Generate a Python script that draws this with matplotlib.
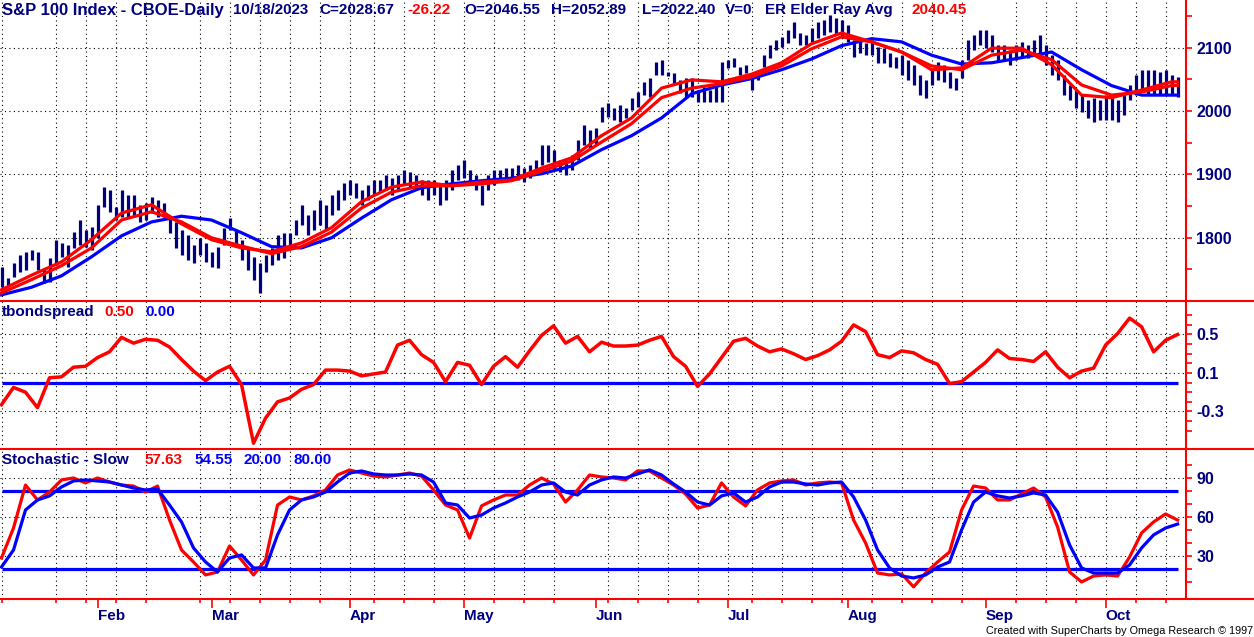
import matplotlib.pyplot as plt
import numpy as np
import pandas as pd
from matplotlib.lines import Line2D

plt.rcParams['axes.unicode_minus'] = False
plt.rcParams['font.family'] = ['Liberation Sans', 'DejaVu Sans']

W, H = 1254, 637
NAVY = '#000080'
RED = '#ff0000'
BLUE = '#0000ff'

# trading days shown (data feed has a bar on Juneteenth)
holidays = ['2023-01-16', '2023-02-20', '2023-04-07', '2023-05-29', '2023-07-04', '2023-09-04']
dates = pd.bdate_range('2023-01-09', '2023-10-18', freq='C', holidays=holidays)

# daily bars, high / low
highs = [1754, 1737, 1760, 1773, 1778, 1781, 1778, 1752, 1768, 1797,
         1792, 1789, 1809, 1828, 1812, 1817, 1852, 1880, 1876, 1849,
         1876, 1868, 1868, 1852, 1855, 1864, 1860, 1855, 1833, 1825,
         1812, 1804, 1789, 1800, 1792, 1778, 1785, 1815, 1831, 1812,
         1797, 1784, 1770, 1760, 1773, 1784, 1804, 1808, 1808, 1828,
         1852, 1836, 1844, 1860, 1852, 1867, 1875, 1886, 1891, 1886,
         1875, 1883, 1891, 1891, 1899, 1894, 1899, 1907, 1904, 1899,
         1891, 1891, 1891, 1883, 1891, 1907, 1915, 1923, 1907, 1899,
         1883, 1899, 1907, 1907, 1910, 1910, 1915, 1910, 1915, 1923,
         1946, 1946, 1939, 1923, 1923, 1931, 1954, 1978, 1970, 1973,
         2006, 2013, 2005, 2010, 2005, 2020, 2030, 2046, 2052, 2077,
         2080, 2061, 2060, 2049, 2052, 2052, 2033, 2038, 2033, 2038,
         2077, 2080, 2084, 2069, 2073, 2057, 2060, 2088, 2104, 2112,
         2117, 2128, 2140, 2123, 2120, 2131, 2140, 2144, 2151, 2147,
         2144, 2136, 2112, 2112, 2107, 2112, 2101, 2099, 2092, 2085,
         2088, 2080, 2073, 2057, 2049, 2065, 2077, 2073, 2062, 2052,
         2080, 2112, 2120, 2128, 2128, 2120, 2104, 2104, 2096, 2104,
         2109, 2104, 2112, 2120, 2104, 2088, 2080, 2057, 2041, 2033,
         2025, 2017, 2020, 2017, 2025, 2025, 2017, 2025, 2041, 2057,
         2065, 2065, 2065, 2062, 2065, 2057, 2052.89]
lows = [1722, 1722, 1738, 1746, 1749, 1765, 1749, 1729, 1730, 1757,
        1770, 1754, 1784, 1789, 1786, 1781, 1800, 1849, 1841, 1828,
        1833, 1833, 1833, 1825, 1828, 1839, 1833, 1833, 1808, 1784,
        1773, 1765, 1760, 1773, 1762, 1754, 1752, 1789, 1812, 1785,
        1765, 1749, 1734, 1713, 1746, 1757, 1765, 1768, 1784, 1804,
        1820, 1804, 1812, 1820, 1812, 1836, 1844, 1860, 1867, 1863,
        1852, 1860, 1867, 1872, 1875, 1867, 1875, 1883, 1878, 1875,
        1867, 1860, 1867, 1852, 1860, 1875, 1891, 1894, 1883, 1875,
        1852, 1875, 1883, 1888, 1888, 1891, 1891, 1888, 1894, 1899,
        1915, 1920, 1907, 1904, 1899, 1907, 1923, 1946, 1942, 1946,
        1983, 1991, 1986, 1983, 1989, 2002, 2006, 2025, 2022, 2057,
        2057, 2055, 2041, 2028, 2022, 2022, 2014, 2014, 2014, 2014,
        2014, 2068, 2069, 2057, 2060, 2033, 2049, 2069, 2084, 2096,
        2101, 2107, 2115, 2104, 2104, 2109, 2115, 2120, 2125, 2120,
        2115, 2109, 2085, 2092, 2088, 2088, 2076, 2076, 2069, 2068,
        2057, 2049, 2041, 2025, 2021, 2041, 2049, 2046, 2036, 2033,
        2052, 2080, 2096, 2104, 2099, 2093, 2077, 2080, 2073, 2080,
        2084, 2084, 2088, 2088, 2073, 2057, 2049, 2025, 2017, 2005,
        1999, 1989, 1983, 1986, 1986, 1986, 1983, 1994, 2017, 2025,
        2030, 2025, 2025, 2025, 2025, 2025, 2022.40]

# moving averages, read every 5th bar (plus the last one)
ma_bars = list(range(0, 196, 5)) + [196]
ma_blue = [1710, 1722, 1740, 1770, 1803, 1825, 1834, 1828, 1808, 1786,
           1784, 1800, 1831, 1860, 1879, 1885, 1890, 1894, 1901, 1913,
           1939, 1961, 1989, 2027, 2041, 2051, 2065, 2082, 2103, 2114,
           2109, 2088, 2074, 2076, 2084, 2093, 2065, 2040, 2025, 2025, 2025]
ma_red_fast = [1718, 1741, 1762, 1797, 1839, 1852, 1822, 1797, 1784, 1778,
               1792, 1816, 1857, 1880, 1888, 1882, 1888, 1891, 1910, 1926,
               1961, 1989, 2036, 2049, 2046, 2058, 2076, 2106, 2123, 2109,
               2093, 2065, 2068, 2099, 2099, 2073, 2025, 2021, 2033, 2046, 2046]
ma_red_slow = [1713, 1734, 1756, 1784, 1828, 1841, 1825, 1800, 1787, 1775,
               1786, 1809, 1847, 1872, 1882, 1882, 1885, 1890, 1905, 1921,
               1951, 1980, 2021, 2036, 2043, 2054, 2071, 2098, 2117, 2109,
               2093, 2071, 2065, 2088, 2096, 2081, 2041, 2025, 2030, 2040, 2040.45]

# oscillators, read every 2nd bar
osc_bars = list(range(0, 197, 2))
tbond = [-0.23, -0.05, -0.10, -0.26, 0.05, 0.06, 0.16, 0.17, 0.26, 0.32,
         0.47, 0.41, 0.45, 0.44, 0.37, 0.24, 0.12, 0.02, 0.11, 0.17,
         -0.02, -0.63, -0.37, -0.20, -0.16, -0.07, -0.02, 0.13, 0.13, 0.12,
         0.07, 0.09, 0.11, 0.39, 0.44, 0.29, 0.21, 0.01, 0.21, 0.18,
         -0.02, 0.17, 0.27, 0.16, 0.33, 0.49, 0.59, 0.41, 0.48, 0.32,
         0.42, 0.38, 0.38, 0.39, 0.44, 0.48, 0.27, 0.17, -0.04, 0.09,
         0.26, 0.43, 0.46, 0.38, 0.32, 0.35, 0.30, 0.24, 0.28, 0.34,
         0.43, 0.60, 0.53, 0.29, 0.26, 0.33, 0.31, 0.24, 0.19, -0.01,
         0.01, 0.11, 0.21, 0.34, 0.25, 0.24, 0.22, 0.32, 0.16, 0.05,
         0.12, 0.15, 0.39, 0.51, 0.67, 0.58, 0.32, 0.44, 0.50]
tbond_ref = 0.0
stoch_k = [28.5, 51.5, 84.6, 73.1, 79.2, 88.5, 90.0, 86.2, 90.0, 86.9,
           84.6, 83.8, 79.2, 83.8, 57.7, 34.6, 25.4, 15.4, 17.7, 37.7,
           26.9, 15.4, 26.9, 69.2, 75.4, 73.1, 76.2, 80.8, 92.3, 96.2,
           93.8, 91.5, 90.8, 92.3, 93.8, 91.5, 80.8, 69.2, 65.4, 43.8,
           68.5, 73.1, 76.9, 76.9, 84.6, 90.0, 85.4, 71.5, 80.8, 92.3,
           90.8, 90.0, 88.5, 95.4, 95.4, 90.0, 84.6, 77.7, 66.9, 69.2,
           86.2, 75.4, 68.5, 80.8, 86.2, 87.7, 88.5, 84.6, 86.2, 86.9,
           86.2, 57.7, 40.0, 16.9, 15.4, 16.2, 6.2, 16.9, 25.4, 33.1,
           65.4, 83.8, 82.3, 73.1, 73.1, 77.7, 82.3, 75.4, 52.3, 17.7,
           10.0, 14.6, 15.4, 14.6, 29.2, 47.7, 56.2, 62.3, 57.63]
stoch_d = [21.5, 34.6, 65.4, 73.1, 76.2, 83.1, 87.7, 88.5, 87.7, 86.9,
           84.6, 82.3, 80.8, 81.5, 69.2, 56.2, 36.2, 25.4, 17.7, 28.5,
           30.8, 20.8, 20.8, 46.2, 65.4, 73.1, 75.4, 79.2, 86.9, 93.8,
           95.4, 93.1, 92.3, 92.3, 93.1, 92.3, 86.9, 70.8, 69.2, 59.2,
           61.5, 66.9, 70.8, 75.4, 79.2, 84.6, 86.2, 79.2, 76.9, 84.6,
           88.5, 90.8, 90.0, 93.1, 96.2, 92.3, 85.4, 79.2, 71.5, 69.2,
           76.2, 78.5, 71.5, 75.4, 83.1, 86.9, 86.9, 85.4, 84.6, 86.2,
           86.9, 75.4, 57.7, 34.6, 20.8, 14.6, 13.1, 15.4, 21.5, 25.4,
           50.0, 71.5, 79.2, 76.2, 74.6, 76.2, 78.5, 76.9, 63.8, 38.5,
           20.8, 16.9, 16.9, 16.9, 23.1, 36.2, 46.2, 51.5, 54.55]
stoch_levels = [20, 80]

x = np.arange(len(dates))
mondays = x[np.asarray(dates.weekday) == 0]
months = np.asarray(dates.month)
month_starts = x[1:][months[1:] != months[:-1]]
month_names = [dates[i].strftime('%b') for i in month_starts]

fig = plt.figure(figsize=(W / 100, H / 100), dpi=100)
right = 1186 / W


def panel(top_px, bottom_px, ylim, majors, labels, minors):
    ax = fig.add_axes([0, 1 - bottom_px / H, right, (bottom_px - top_px) / H])
    ax.set_xlim(-0.25, 197.4)
    ax.set_ylim(*ylim)
    for s in ['top', 'left', 'bottom']:
        ax.spines[s].set_visible(False)
    ax.spines['right'].set_color(RED)
    ax.spines['right'].set_linewidth(1.5)
    ax.yaxis.tick_right()
    ax.set_yticks(majors, labels=labels)
    ax.set_yticks(minors, minor=True)
    ax.tick_params(axis='y', which='both', colors=RED, length=4.5, width=1.2,
                   labelcolor=NAVY, labelsize=11.5, pad=3)
    for lbl in ax.get_yticklabels():
        lbl.set_fontweight('bold')
    ax.set_xticks([])
    dots = dict(color='black', lw=0.8, ls=(0, (1, 3)), zorder=0)
    for v in majors:
        ax.axhline(v, **dots)
    for m in mondays:
        ax.axvline(m, **dots)
    return ax


ax1 = panel(0, 301, (1700.3, 2175), [1800, 1900, 2000, 2100],
            ['1800', '1900', '2000', '2100'], np.arange(1750, 2175, 50))
ax2 = panel(301, 449, (-0.69, 0.848), [-0.3, 0.1, 0.5],
            ['-0.3', '0.1', '0.5'], np.arange(-0.5, 0.75, 0.1))
ax3 = panel(449, 599, (-3.1, 112.3), [30, 60, 90],
            ['30', '60', '90'], np.arange(10, 105, 10))

# price bars and averages
ax1.vlines(x, lows, highs, color=NAVY, lw=2.3, zorder=2)
ax1.plot(ma_bars, ma_blue, color=BLUE, lw=2.3, zorder=3)
ax1.plot(ma_bars, ma_red_slow, color=RED, lw=2.3, zorder=4)
ax1.plot(ma_bars, ma_red_fast, color=RED, lw=2.3, zorder=4)

# tbondspread
ax2.hlines(tbond_ref, x[0], x[-1], color=BLUE, lw=2.3, zorder=2)
ax2.plot(osc_bars, tbond, color=RED, lw=2.5, zorder=3)

# slow stochastic
for lvl in stoch_levels:
    ax3.hlines(lvl, x[0], x[-1], color=BLUE, lw=2.3, zorder=2)
ax3.plot(osc_bars, stoch_k, color=RED, lw=2.3, zorder=3)
ax3.plot(osc_bars, stoch_d, color=BLUE, lw=2.3, zorder=3)

# date axis
ax3.set_xticks(month_starts, labels=month_names)
ax3.set_xticks(mondays, minor=True)
ax3.tick_params(axis='x', which='major', colors=RED, length=6.5, width=1.2,
                labelcolor=NAVY, labelsize=11, pad=1)
ax3.tick_params(axis='x', which='minor', colors=RED, length=3, width=1.2)
for lbl in ax3.get_xticklabels():
    lbl.set_fontweight('bold')
    lbl.set_horizontalalignment('left')

for py in [301, 449, 599]:
    fig.add_artist(Line2D([0, 1], [1 - py / H] * 2, color=RED, lw=1.5))


def label(px, py, s, color=NAVY, size=11):
    fig.text(px / W, 1 - py / H, s, color=color, fontsize=size,
             fontweight='bold', va='center', ha='left')


header = [(2, 'S&P 100 Index - CBOE-Daily', NAVY, 12), (233, '10/18/2023', NAVY, 10.8),
          (319, 'C=2028.67', NAVY, 11), (407, '-26.22', RED, 11), (464, 'O=2046.55', NAVY, 11),
          (551, 'H=2052.89', NAVY, 11), (642, 'L=2022.40', NAVY, 11), (725, 'V=0', NAVY, 11),
          (765, 'ER Elder Ray Avg', NAVY, 11), (912, '2040.45', RED, 11)]
for px, s, c, sz in header:
    label(px, 10, s, c, sz)

for px, s, c in [(2, 'tbondspread', NAVY), (104, '0.50', RED), (145, '0.00', BLUE)]:
    label(px, 312, s, c)

for px, s, c in [(2, 'Stochastic - Slow', NAVY), (144, '57.63', RED), (194, '54.55', BLUE),
                 (243, '20.00', BLUE), (293, '80.00', BLUE)]:
    label(px, 460, s, c)

fig.text(1253 / W, 1 - 631 / H, 'Created with SuperCharts by Omega Research \u00a9 1997',
         fontsize=7.8, color='black', ha='right', va='center')

fig.savefig('out.png', dpi=100, facecolor='white')
